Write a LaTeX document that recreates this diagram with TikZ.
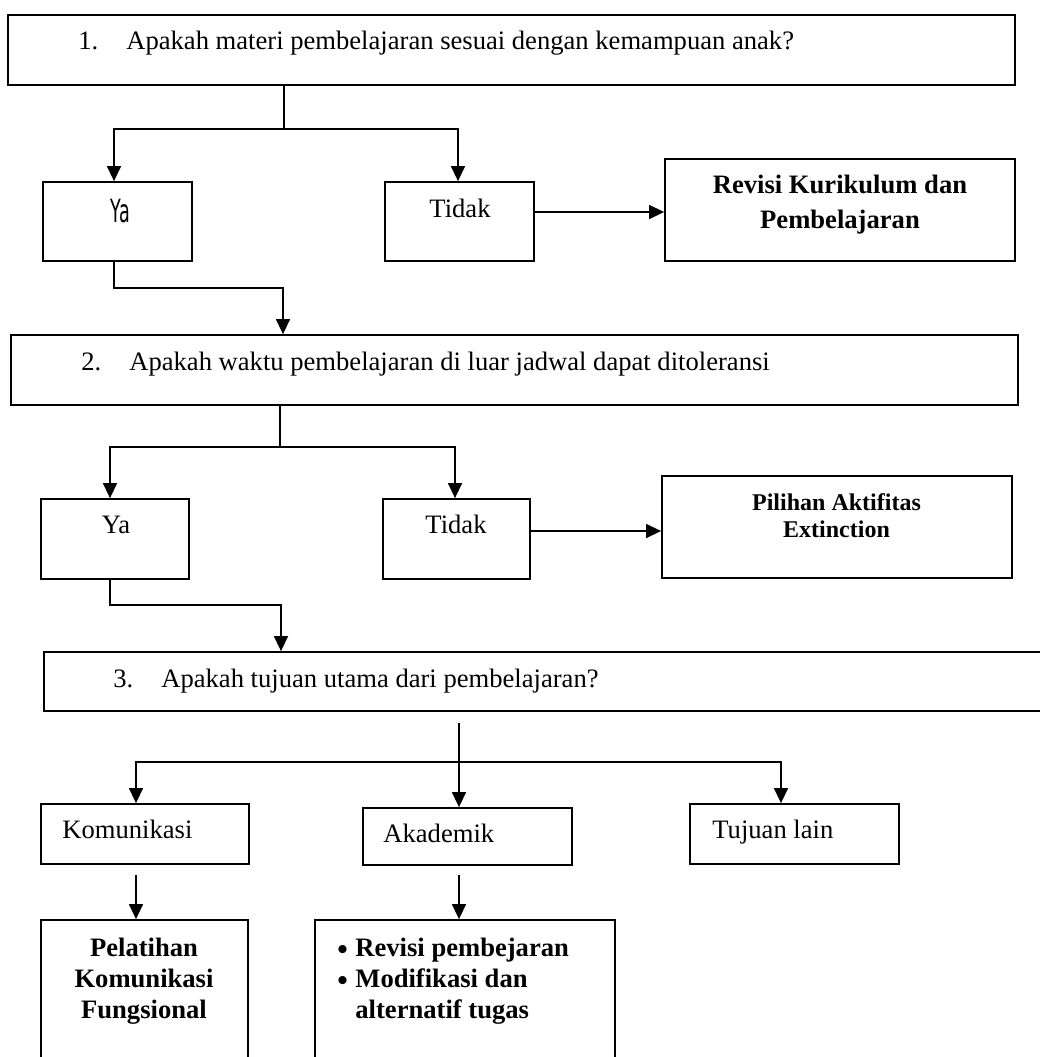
\documentclass[tikz,border=0pt]{standalone}
\usepackage{fontspec}
\setmainfont{Liberation Serif}
\newfontfamily\yafont[FakeStretch=0.55]{DejaVu Sans}
\usetikzlibrary{fit,calc,arrows.meta}
\newcommand\fsN{\fontsize{13.3}{15}\selectfont}
\newcommand\fsS{\fontsize{12}{13.5}\selectfont}
\begin{document}
\begin{tikzpicture}[x=0.5pt,y=-0.5pt,
  box/.style={draw, line width=0.9pt, inner sep=0pt},
  conn/.style={line width=0.7pt},
  arr/.style={conn, -{Triangle[length=7.5pt,width=7pt]}},
  txt/.style={inner sep=0pt, font=\fsN},
  btxt/.style={inner sep=0pt, font=\fsN\bfseries},
  stxt/.style={inner sep=0pt, font=\fsS\bfseries},
  bul/.style={inner sep=0pt, font=\fontsize{15}{15}\selectfont\bfseries}]
\clip (0,0) rectangle (1040,1057);
% boxes
\node[box, fit={(8,15)(1015,85)}] (b1) {};
\node[box, fit={(43,182)(192,261)}] (ya1) {};
\node[box, fit={(385,182)(534,261)}] (td1) {};
\node[box, fit={(665,159)(1015,261)}] (rv1) {};
\node[box, fit={(11,335)(1018,405)}] (b2) {};
\node[box, fit={(41,499)(189,579)}] (ya2) {};
\node[box, fit={(383,499)(530,579)}] (td2) {};
\node[box, fit={(662,476)(1012,578)}] (pl) {};
\node[box, fit={(44,652)(1060,711)}] (b3) {};
\node[box, fit={(41,804)(249,864)}] (kom) {};
\node[box, fit={(363,808)(572,865)}] (ak) {};
\node[box, fit={(690,804)(899,864)}] (tl) {};
\node[box, fit={(41,920)(248,1080)}] (pf) {};
\node[box, fit={(315,920)(615,1080)}] (rp) {};
% texts
\node[txt, anchor=base west] (q1) at (78,49) {1.\hspace{14pt}Apakah materi pembelajaran sesuai dengan kemampuan anak?};
\node[txt, anchor=base west] (q2) at (81,370) {2.\hspace{14pt}Apakah waktu pembelajaran di luar jadwal dapat ditoleransi};
\node[txt, anchor=base west] (q3) at (113,687) {3.\hspace{14pt}Apakah tujuan utama dari pembelajaran?};
\node[inner sep=0pt, font=\yafont\fontsize{16}{16}\selectfont, anchor=base] (ya1t) at (120.5,222) {Ya};
\node[txt, anchor=base] (td1t) at (460,217) {Tidak};
\node[btxt, anchor=base] (rv1a) at (840,193) {Revisi Kurikulum dan};
\node[btxt, anchor=base] (rv1b) at (840,228) {Pembelajaran};
\node[txt, anchor=base] (ya2t) at (116,533) {Ya};
\node[txt, anchor=base] (td2t) at (456,533) {Tidak};
\node[stxt, anchor=base] (pla) at (836.5,510) {Pilihan Aktifitas};
\node[stxt, anchor=base] (plb) at (836.5,537) {Extinction};
\node[txt, anchor=base west] (komt) at (62,838) {Komunikasi};
\node[txt, anchor=base west] (akt) at (383,842) {Akademik};
\node[txt, anchor=base west] (tlt) at (712,838) {Tujuan lain};
\node[btxt, anchor=base] (pfa) at (144,956) {Pelatihan};
\node[btxt, anchor=base] (pfb) at (144,987) {Komunikasi};
\node[btxt, anchor=base] (pfc) at (144,1018) {Fungsional};
\node[bul, anchor=base west] (bu1) at (337,959) {•};
\node[bul, anchor=base west] (bu2) at (337,990) {•};
\node[btxt, anchor=base west] (rpa) at (355,956) {Revisi pembejaran};
\node[btxt, anchor=base west] (rpb) at (355,987) {Modifikasi dan};
\node[btxt, anchor=base west] (rpc) at (355,1018) {alternatif tugas};
% connectors level 1
\coordinate (j1) at (284,129);
\draw[conn] (b1.south -| j1) -- (j1);
\draw[arr] (j1) -| ($(ya1.north)+(-3.5,0)$);
\draw[arr] (j1) -| ($(td1.north)+(-1.5,0)$);
\draw[arr] ($(td1.east)+(0,-9.5)$) coordinate (a1) -- (a1 -| rv1.west);
\coordinate (k1) at (283,288);
\draw[arr] ($(ya1.south)+(-3.5,0)$) |- (k1) -- (k1 |- b2.north);
% level 2
\coordinate (j2) at (280,447);
\draw[conn] (b2.south -| j2) -- (j2);
\draw[arr] (j2) -| ($(ya2.north)+(-5,0)$);
\draw[arr] (j2) -| ($(td2.north)+(-1.5,0)$);
\draw[arr] ($(td2.east)+(0,-8)$) coordinate (a2) -- (a2 -| pl.west);
\coordinate (k2) at (281,605);
\draw[arr] ($(ya2.south)+(-5,0)$) |- (k2) -- (k2 |- b3.north);
% level 3
\coordinate (j3) at (459,762);
\draw[conn] ($(b3.south -| j3)+(0,11)$) -- (j3);
\draw[arr] (j3) -| ($(kom.north)+(-9,0)$);
\draw[arr] (j3) -- (j3 |- ak.north);
\draw[arr] (j3) -| ($(tl.north)+(-13.5,0)$);
\coordinate (c1) at ($(kom.south)+(-9,10)$);
\draw[arr] (c1) -- (c1 |- pf.north);
\coordinate (c2) at ($(ak.south)+(-8.5,9)$);
\draw[arr] (c2) -- (c2 |- rp.north);
\end{tikzpicture}
\end{document}
